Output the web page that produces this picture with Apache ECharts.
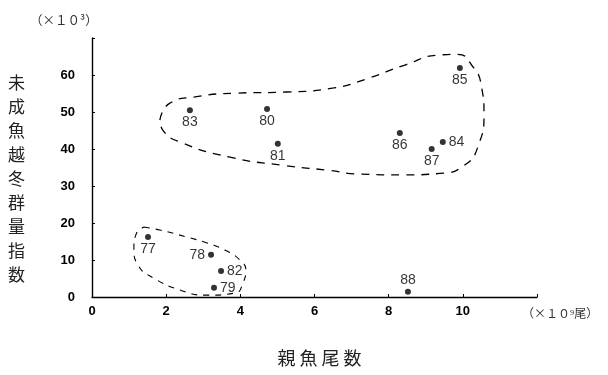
<!DOCTYPE html>
<html>
<head>
<meta charset="utf-8">
<script src="https://cdn.jsdelivr.net/npm/echarts@6/dist/echarts.min.js"></script>
<style>html,body{margin:0;padding:0;background:#fff}#c{width:608px;height:375px}</style>
</head>
<body>
<div id="c"></div>
<script>
// Data
const years = ['77','78','79','80','81','82','83','84','85','86','87','88'];
const spawners = [1.51, 3.21, 3.29, 4.72, 5.01, 3.48, 2.64, 9.46, 9.92, 8.30, 9.16, 8.52];
const recruits = [16.2, 11.4, 2.5, 50.8, 41.4, 7.0, 50.5, 41.9, 61.9, 44.3, 40.0, 1.4];
const xTicks = ['0','2','4','6','8','10'];
const yTicks = ['0','10','20','30','40','50','60'];
// Dashed group outlines (data units)
const upperLoop = [
  [1.83,47.8],[2.10,52.4],[2.78,54.1],[3.88,55.1],[5.26,55.4],[6.52,56.5],[7.39,58.9],
  [8.44,62.7],[9.35,65.4],[9.85,65.6],[10.25,62.5],[10.50,57.0],[10.57,49.5],[10.42,41.0],
  [10.0,35.3],[9.38,33.4],[8.44,33.0],[7.22,33.2],[6.41,34.2],[5.15,35.6],[3.72,37.8],
  [2.37,41.9],[1.91,45.1],[1.83,47.8]
];
const lowerLoop = [
  [1.40,18.9],[1.83,18.1],[2.56,16.2],[3.10,14.6],[3.58,12.7],[3.99,10.0],[4.15,7.3],
  [4.07,3.8],[3.88,1.1],[3.05,0.5],[2.37,1.9],[1.70,4.9],[1.24,8.6],[1.13,13.2],
  [1.19,17.0],[1.40,18.9]
];
// label placement (style)
const labelPos = {'77':'bottom','78':'left','79':'right','80':'bottom','81':'bottom','82':'right',
  '83':'bottom','84':'right','85':'bottom','86':'bottom','87':'bottom','88':'top'};

const chart = echarts.init(document.getElementById('c'), null, {renderer:'canvas'});
const pts = years.map((y,i)=>({
  value:[spawners[i], recruits[i]], name:y,
  label:{position:labelPos[y], distance: (labelPos[y]==='left'||labelPos[y]==='right')?3:2}
}));
const loopStyle = {color:'#000', width:1.3, type:[8,7]};
chart.setOption({
  animation:false,
  backgroundColor:'#fff',
  grid:{left:92, right:71, top:38, bottom:78},
  xAxis:{
    type:'value', min:0, max:12, interval:2,
    axisLine:{lineStyle:{color:'#000', width:1.4}},
    axisTick:{inside:true, length:3, lineStyle:{color:'#000'}},
    splitLine:{show:false},
    axisLabel:{margin:8, color:'#000', fontSize:13, fontWeight:'bold', fontFamily:'Liberation Sans, Arial',
      formatter:(v)=>{const s=String(v); return xTicks.indexOf(s)>=0?s:'';}},
    name:'親 魚 尾 数', nameLocation:'middle', nameGap:52,
    nameTextStyle:{fontSize:18, color:'#222', fontFamily:'Noto Sans CJK JP', padding:[0,0,0,10]}
  },
  yAxis:{
    type:'value', min:0, max:70, interval:10,
    axisLine:{show:true, lineStyle:{color:'#000', width:1.4}},
    axisTick:{show:true, inside:true, length:3, lineStyle:{color:'#000'}},
    splitLine:{show:false},
    axisLabel:{margin:17, color:'#000', fontSize:13, fontWeight:'bold', fontFamily:'Liberation Sans, Arial',
      formatter:(v)=>{const s=String(v); return yTicks.indexOf(s)>=0?s:'';}}
  },
  graphic:[
    {type:'text', left:8, top:71, style:{text:'未\n成\n魚\n越\n冬\n群\n量\n指\n数', fontSize:17, lineHeight:24,
      fill:'#222', fontFamily:'Noto Sans CJK JP', align:'center'}},
    {type:'text', left:30, top:14, style:{text:'（×１０³）', fontSize:12.5, fill:'#333', fontFamily:'Noto Sans CJK JP'}},
    {type:'text', left:522, top:307, style:{text:'（×１０⁹尾）', fontSize:12, fill:'#333', fontFamily:'Noto Sans CJK JP'}}
  ],
  series:[
    {type:'line', data:upperLoop, smooth:0.55, symbol:'none', lineStyle:loopStyle, silent:true, z:1},
    {type:'line', data:lowerLoop, smooth:0.5, symbol:'none', lineStyle:Object.assign({}, loopStyle, {width:1.1, type:[6,6]}), silent:true, z:1},
    {type:'scatter', data:pts, symbol:'circle', symbolSize:6, itemStyle:{color:'#000'}, z:3,
      label:{show:true, formatter:(p)=>p.name, color:'#000', fontSize:14, fontFamily:'Liberation Sans, Arial'}}
  ]
});
</script>
</body>
</html>
